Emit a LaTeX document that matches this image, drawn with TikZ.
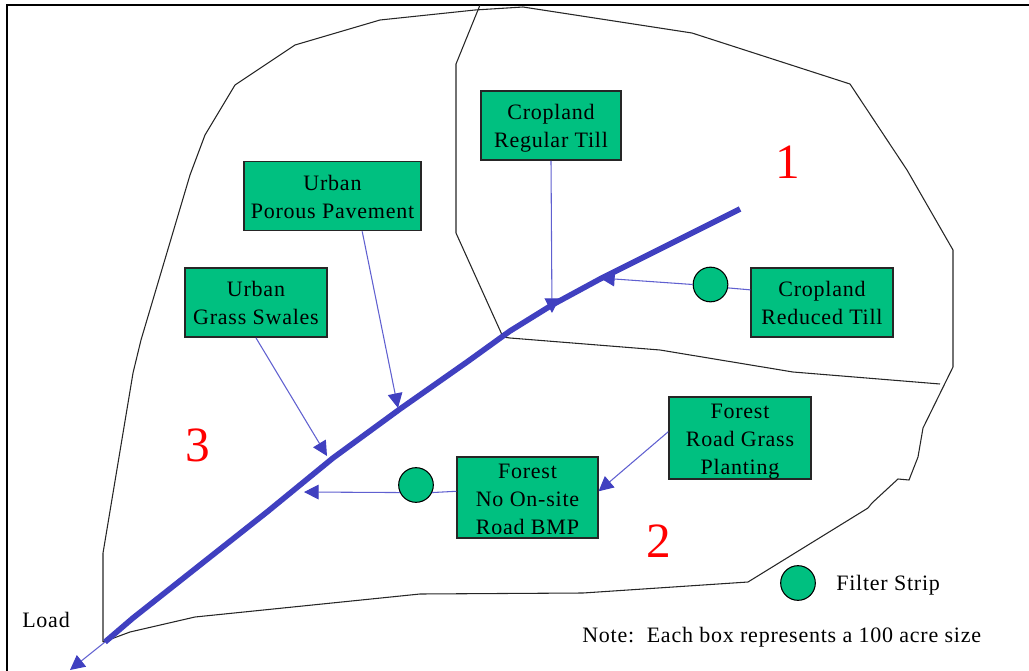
\documentclass[tikz,border=0pt]{standalone}
\usepackage{fontspec}
\setmainfont[LetterSpace=3.5]{Liberation Serif}
\usetikzlibrary{arrows.meta}
\definecolor{stripgreen}{HTML}{00C080}
\definecolor{riverblue}{HTML}{4040C0}
\definecolor{feedblue}{HTML}{6060D0}
\newcommand{\droptext}[1]{\rule{0pt}{#1}}
\tikzset{
    landbox/.style={draw=black!85,line width=1.1pt,fill=stripgreen,inner sep=0pt,align=center,
        font=\fontsize{16.5}{21}\selectfont},
    strip/.style={circle,draw=black,line width=0.8pt,fill=stripgreen,inner sep=0pt,minimum size=26pt},
    boundary/.style={black!85,line width=0.8pt},
    river/.style={riverblue,line width=4.2pt,line join=round},
    feed/.style={feedblue,line width=0.8pt,-{Triangle[length=11pt,width=11pt,color=riverblue]},shorten >=0pt},
    feedplain/.style={feedblue,line width=0.8pt},
    basinlabel/.style={text=red,font=\fontsize{37}{37}\selectfont,inner sep=0pt},
    plainlabel/.style={font=\fontsize{16.5}{21}\selectfont,inner sep=0pt}
}
\begin{document}
\begin{tikzpicture}[x=0.75pt,y=-0.75pt]
    \useasboundingbox (0,0) rectangle (1029,671);

    % Frame
    \draw[black,line width=2.2pt] (7,671) -- (7,5) -- (1029,5);

    % Watershed outline
    \draw[boundary] (103,642) -- (103,553) -- (133,373) -- (141,340) -- (190,175) -- (205,135)
        -- (235,85) -- (295,45) -- (380,20) -- (475,10) -- (523,7) -- (692,33) -- (850,84)
        -- (907,170) -- (953,250) -- (953,367) -- (923,428) -- (918,457) -- (909,480) -- (898,479)
        -- (872,503) -- (868,508) -- (748,582) -- (583,593) -- (420,594) -- (195,617)
        -- (130,632) -- (103,642);

    % Subbasin divides
    \draw[boundary] (480,5) -- (456,64) -- (456,233) -- (503,337) -- (510,338) -- (660,350)
        -- (793,372) -- (940,384);

    % Main channel
    \coordinate (outlet) at (105,642);
    \draw[river] (740,209) -- (660,249) -- (600,279) -- (552,305) -- (510,331) -- (467,362)
        -- (400,409) -- (333,458) -- (267,512) -- (200,565) -- (133,618) -- (outlet);

    % Points where the arrows land
    \coordinate (tipreg) at (552,313);
    \coordinate (tipred) at (600,278);
    \coordinate (tippor) at (398,408);
    \coordinate (tipswa) at (327,456);
    \coordinate (tipfor) at (304,492);
    \coordinate (tipload) at (70,670);

    % Land use boxes
    \node[landbox,minimum width=105pt,minimum height=52pt] (cropreg) at (551,125.5) {\droptext{15.7pt}Cropland\\Regular Till};
    \node[landbox,minimum width=133pt,minimum height=52pt] (urbpor) at (332.5,196) {\droptext{12.7pt}Urban\\Porous Pavement};
    \node[landbox,minimum width=106.5pt,minimum height=52pt] (urbswa) at (256,302.5) {Urban\\Grass Swales};
    \node[landbox,minimum width=106.5pt,minimum height=52pt] (cropred) at (822,302.5) {Cropland\\Reduced Till};
    \node[landbox,minimum width=106.5pt,minimum height=61.5pt] (forroad) at (740,438) {\droptext{15.8pt}Forest\\Road Grass\\Planting};
    \node[landbox,minimum width=105.5pt,minimum height=61pt] (forno) at (527.5,497.5) {\droptext{13.4pt}Forest\\No On-site\\Road BMP};

    % Filter strips
    \node[strip] (stripred) at (710.5,284.5) {};
    \node[strip] (stripfor) at (416,485) {};
    \node[strip] (stripkey) at (798,583) {};

    % Arrows
    \draw[feed] (cropreg.south) -- (tipreg);
    \draw[feed] (urbpor.-50) -- (tippor);
    \draw[feed] (urbswa.south) -- (tipswa);
    \draw[feedplain] (cropred.170) -- (stripred.-11);
    \draw[feed] (stripred.180) -- (tipred);
    \draw[feedplain] (forno.175) -- (stripfor.-25);
    \draw[feed] (stripfor.205) -- (tipfor);
    \draw[feed] (forroad.175) -- (forno.5);
    \draw[feed] (outlet) -- (tipload);

    % Labels
    \node[basinlabel] (one) at (788,162) {1};
    \node[basinlabel] (two) at (659,541) {2};
    \node[basinlabel] (three) at (198,445) {3};
    \node[plainlabel,anchor=west] (load) at (22,620) {Load};
    \node[plainlabel,anchor=west] (stripname) at (836,585) {Filter Strip};
    \node[plainlabel,anchor=west] (note) at (582,637) {Note:~~Each box represents a 100 acre size};
\end{tikzpicture}
\end{document}
